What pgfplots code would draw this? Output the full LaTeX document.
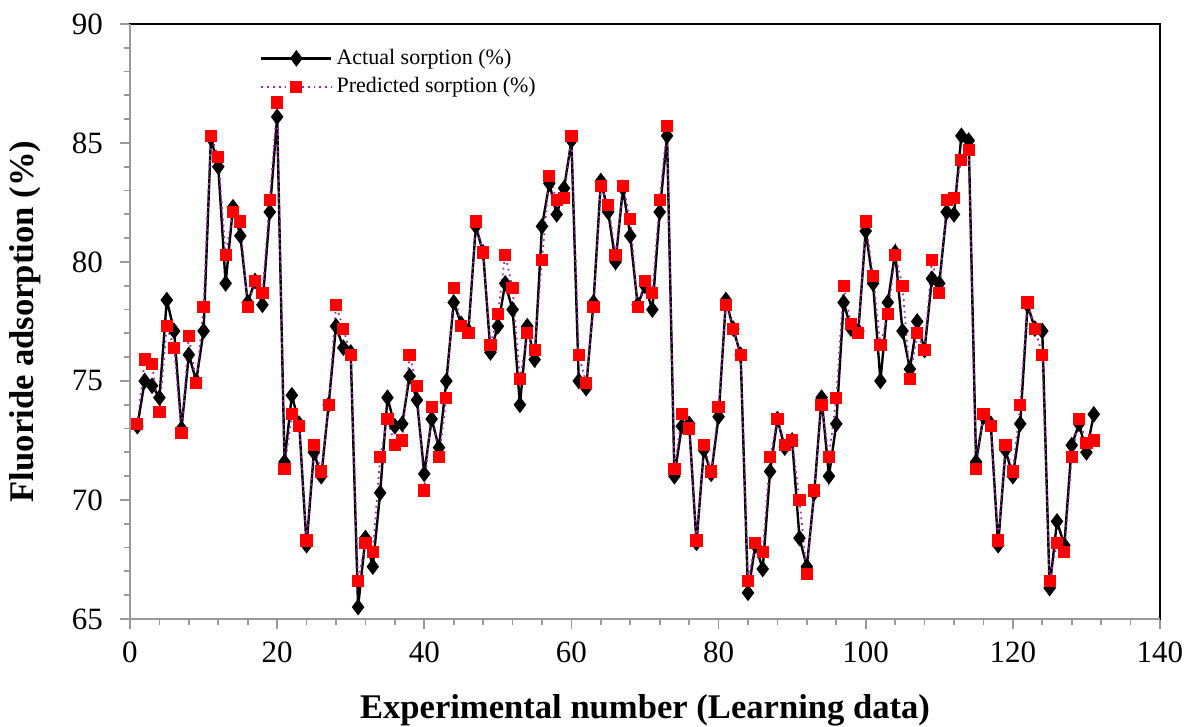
\documentclass[border=0pt]{standalone}
\usepackage{fontspec}
\setmainfont{Liberation Serif}
\usepackage{pgfplots}
\usepackage{pgfplotstable}
\pgfplotsset{compat=1.18}

\definecolor{predline}{RGB}{160,40,170}

% n = experiment number, act = actual sorption, pred = predicted sorption
\pgfplotstableread{
n act pred
1 73.1 73.2
2 75.0 75.9
3 74.8 75.7
4 74.3 73.7
5 78.4 77.3
6 77.1 76.4
7 73.0 72.8
8 76.1 76.9
9 75.0 74.9
10 77.1 78.1
11 85.2 85.3
12 84.0 84.4
13 79.1 80.3
14 82.3 82.1
15 81.1 81.7
16 78.3 78.1
17 79.2 79.2
18 78.2 78.7
19 82.1 82.6
20 86.1 86.7
21 71.6 71.3
22 74.4 73.6
23 73.2 73.1
24 68.1 68.3
25 72.0 72.3
26 71.0 71.2
27 74.0 74.0
28 77.3 78.2
29 76.4 77.2
30 76.2 76.1
31 65.5 66.6
32 68.4 68.2
33 67.2 67.8
34 70.3 71.8
35 74.3 73.4
36 73.1 72.3
37 73.2 72.5
38 75.2 76.1
39 74.2 74.8
40 71.1 70.4
41 73.4 73.9
42 72.2 71.8
43 75.0 74.3
44 78.3 78.9
45 77.4 77.3
46 77.1 77.0
47 81.5 81.7
48 80.4 80.4
49 76.2 76.5
50 77.3 77.8
51 79.1 80.3
52 78.0 78.9
53 74.0 75.1
54 77.3 77.0
55 75.9 76.3
56 81.5 80.1
57 83.3 83.6
58 82.0 82.6
59 83.1 82.7
60 85.1 85.3
61 75.0 76.1
62 74.7 74.9
63 78.3 78.1
64 83.4 83.2
65 82.1 82.4
66 80.0 80.3
67 83.1 83.2
68 81.1 81.8
69 78.2 78.1
70 79.0 79.2
71 78.0 78.7
72 82.1 82.6
73 85.3 85.7
74 71.0 71.3
75 73.1 73.6
76 73.2 73.0
77 68.2 68.3
78 72.1 72.3
79 71.1 71.2
80 73.5 73.9
81 78.4 78.2
82 77.2 77.2
83 76.1 76.1
84 66.1 66.6
85 68.1 68.2
86 67.1 67.8
87 71.2 71.8
88 73.4 73.4
89 72.2 72.3
90 72.5 72.5
91 68.4 70.0
92 67.2 66.9
93 70.3 70.4
94 74.3 74.0
95 71.0 71.8
96 73.2 74.3
97 78.3 79.0
98 77.2 77.4
99 77.1 77.0
100 81.3 81.7
101 79.1 79.4
102 75.0 76.5
103 78.3 77.8
104 80.4 80.3
105 77.1 79.0
106 75.5 75.1
107 77.5 77.0
108 76.3 76.3
109 79.3 80.1
110 79.1 78.7
111 82.1 82.6
112 82.0 82.7
113 85.3 84.3
114 85.1 84.7
115 71.6 71.3
116 73.5 73.6
117 73.2 73.1
118 68.1 68.3
119 72.1 72.3
120 71.0 71.2
121 73.2 74.0
122 78.2 78.3
123 77.2 77.2
124 77.1 76.1
125 66.3 66.6
126 69.1 68.2
127 68.1 67.8
128 72.3 71.8
129 73.2 73.4
130 72.0 72.4
131 73.6 72.5
}\sorption

\begin{document}
\begin{tikzpicture}
\path[use as bounding box] (-65pt,-54pt) rectangle (530.5pt,309.5pt);
\begin{axis}[
    scale only axis,
    width=515pt, height=297.5pt,
    at={(0,0)}, anchor=south west,
    xmin=0, xmax=140, ymin=65, ymax=90,
    xtick={0,20,...,140}, ytick={65,70,...,90},
    minor x tick num=4, minor y tick num=4,
    tick align=outside,
    tick pos=left,
    major tick length=5pt, minor tick length=3pt,
    every tick/.style={gray!80, line width=0.9pt},
    axis line style={black, line width=1pt},
    /pgf/number format/assume math mode=true,
    tick label style={font=\fontsize{15.5}{18}\selectfont},
    xticklabel style={yshift=-3pt},
    yticklabel style={xshift=-5pt},
    xlabel={\textbf{Experimental number (Learning data)}},
    ylabel={\textbf{Fluoride adsorption (\%)}},
    label style={font=\fontsize{17.3}{20}\selectfont},
    xlabel style={at={(axis description cs:0.5,-0.1529)}, anchor=center},
    ylabel style={at={(axis description cs:-0.1019,0.5)}, anchor=center},
    legend style={draw=none, fill=none, at={(rel axis cs:0.126,0.965)},
        anchor=north west, font=\fontsize{11}{13}\selectfont,
        row sep=1pt, inner sep=0pt},
    legend cell align=left,
    legend image code/.code={\draw[#1, mark repeat=2, mark phase=2]
        plot coordinates {(0pt,0pt) (17.5pt,0pt) (35pt,0pt)};},
    after end axis/.code={
        \draw[gray!80, line width=0.9pt] (rel axis cs:0,1) -- (rel axis cs:0,0) -- (rel axis cs:1,0);
    },
]
\addplot[black, line width=1.2pt, mark=diamond*, mark size=3.2pt,
    mark options={solid, fill=black}] table[x=n, y=act] {\sorption};
\addlegendentry{Actual sorption (\%)}
\addplot[predline, dotted, line width=0.9pt, mark=square*, mark size=2.6pt,
    mark options={solid, fill=red, draw=red}] table[x=n, y=pred] {\sorption};
\addlegendentry{Predicted sorption (\%)}
\end{axis}
\end{tikzpicture}
\end{document}
